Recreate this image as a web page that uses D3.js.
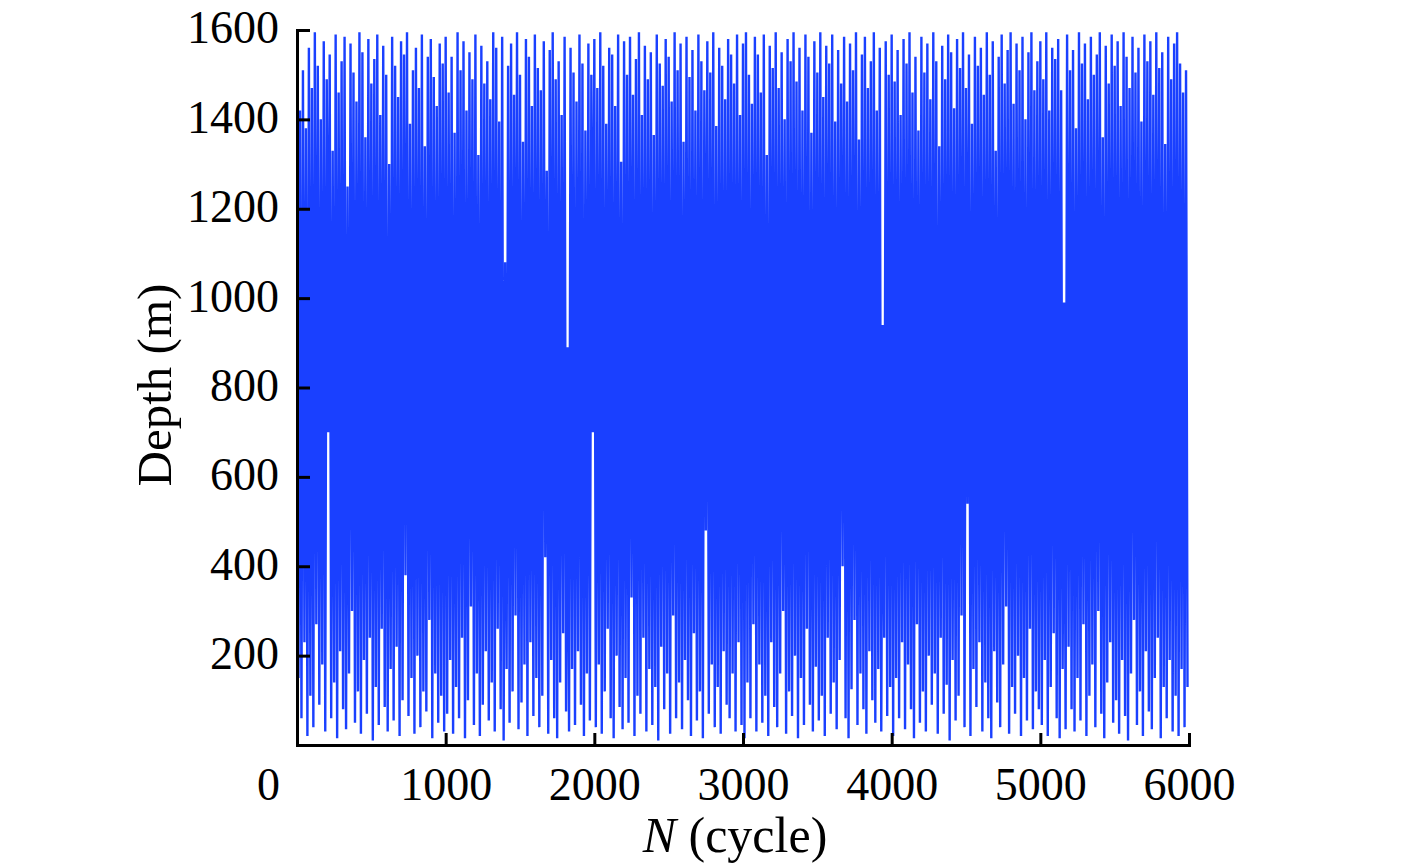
<!DOCTYPE html>
<html>
<head>
<meta charset="utf-8">
<script src="https://cdn.jsdelivr.net/npm/d3@7/dist/d3.min.js"></script>
<style>
  html, body { margin: 0; padding: 0; background: #fff; }
  svg text { font-family: "Liberation Serif", "Times New Roman", serif; fill: #000; }
</style>
</head>
<body>
<svg id="chart" width="1419" height="864"></svg>
<script>
// Depth (m) per 10 cycles, one array per 1000 cycles
const depth0000 = [
1590,150,1420,60,1510,230,1380,20,1560,110,
1470,40,1595,270,1520,90,1400,180,1575,30,
1490,700,1545,60,1330,140,1590,15,1460,210,
1530,80,1585,35,1250,160,1570,300,1505,50,
1440,120,1595,25,1550,190,1360,70,1580,240,
1480,10,1535,130,1590,45,1410,260,1565,85,
1500,30,1300,170,1585,55,1520,220,1450,20,
1575,100,1545,380,1595,65,1390,150,1510,25,
1560,200,1470,40,1590,120,1340,75,1540,280,
1580,15,1495,160,1430,50,1570,110,1525,30];
const depth1000 = [
1585,70,1460,190,1540,25,1370,130,1595,60,
1510,240,1575,15,1420,100,1550,310,1490,45,
1590,160,1320,20,1565,90,1480,210,1530,55,
1445,140,1595,30,1560,260,1395,80,1585,10,
1080,170,1520,50,1570,120,1455,290,1595,35,
1500,95,1350,180,1580,20,1540,230,1430,65,
1590,150,1515,40,1465,110,1575,420,1285,25,
1555,190,1595,60,1490,15,1530,140,1410,250,
1585,75,890,30,1560,170,1505,45,1440,210,
1590,90,1525,20,1375,160,1570,55,1500,700];
const depth2000 = [
1580,40,1470,180,1595,25,1520,120,1390,260,
1560,60,1545,15,1430,200,1590,85,1305,35,
1575,150,1500,50,1585,330,1455,20,1535,110,
1595,70,1410,240,1565,30,1490,170,1550,45,
1365,130,1590,10,1525,220,1475,80,1580,160,
1540,25,1440,290,1595,60,1510,140,1570,35,
1350,190,1585,100,1495,20,1555,250,1420,55,
1590,120,1530,15,1465,480,1575,70,1505,180,
1595,40,1385,130,1560,25,1520,210,1445,90,
1580,60,1545,160,1480,30,1590,230,1410,45];
const depth3000 = [
1570,15,1595,140,1500,60,1435,270,1585,30,
1545,180,1460,50,1590,110,1320,20,1565,230,
1515,85,1595,40,1470,160,1550,300,1400,25,
1580,120,1530,65,1595,200,1485,15,1560,150,
1420,45,1590,260,1540,90,1370,30,1575,175,
1505,55,1595,110,1450,20,1565,240,1525,70,
1590,140,1395,35,1555,190,1480,400,1585,60,
1440,15,1570,125,1510,280,1595,45,1355,160,
1545,80,1585,25,1470,210,1530,100,1595,50,
1420,170,1560,30,940,240,1575,65,1500,130];
const depth4000 = [
1590,20,1485,150,1555,60,1410,230,1580,35,
1525,180,1595,80,1460,15,1540,270,1375,50,
1585,120,1505,30,1570,200,1445,90,1595,160,
1530,25,1340,240,1565,70,1490,135,1590,10,
1550,190,1425,55,1580,110,1515,290,1595,40,
1470,540,1545,20,1390,170,1585,85,1520,230,
1560,30,1455,140,1595,60,1500,15,1575,210,
1330,95,1540,40,1590,180,1480,310,1555,25,
1595,130,1435,70,1570,200,1510,20,1585,150,
1400,55,1550,260,1595,35,1465,120,1530,80];
const depth5000 = [
1575,45,1490,190,1595,20,1420,130,1560,250,
1535,60,1580,15,1465,170,990,35,1590,220,
1510,80,1555,30,1380,150,1595,55,1525,270,
1570,20,1445,110,1585,180,1500,40,1545,300,
1595,70,1360,15,1565,140,1480,230,1590,50,
1520,100,1575,25,1430,190,1595,65,1540,10,
1470,160,1585,280,1505,45,1560,120,1395,20,
1590,210,1530,75,1575,35,1455,150,1595,240,
1515,15,1550,130,1345,60,1585,190,1490,30,
1570,110,1595,20,1525,170,1460,40,1510,130];

const segments = [
  { start: 0, values: depth0000 },
  { start: 1000, values: depth1000 },
  { start: 2000, values: depth2000 },
  { start: 3000, values: depth3000 },
  { start: 4000, values: depth4000 },
  { start: 5000, values: depth5000 }
];
const xTicks = [0, 1000, 2000, 3000, 4000, 5000, 6000];
const yTicks = [200, 400, 600, 800, 1000, 1200, 1400, 1600];

const data = [];
segments.forEach(s => {
  const step = 1000 / s.values.length;
  s.values.forEach((v, j) => data.push({ n: s.start + j * step, d: v }));
});

const svg = d3.select("#chart");
const x = d3.scaleLinear().domain([0, 6000]).range([297, 1189]);
const y = d3.scaleLinear().domain([0, 1600]).range([745, 30]);

svg.append("defs").append("clipPath").attr("id", "clip")
  .append("rect").attr("x", 297).attr("y", 28).attr("width", 892).attr("height", 718);

const line = d3.line().x(p => x(p.n)).y(p => y(p.d));
svg.append("path")
  .datum(data)
  .attr("clip-path", "url(#clip)")
  .attr("fill", "none")
  .attr("stroke", "#1a40ff")
  .attr("stroke-width", 2.4)
  .attr("stroke-linejoin", "bevel")
  .attr("d", line);

// Axes
const yAxis = d3.axisLeft(y).tickValues(yTicks).tickSize(-13).tickPadding(18).tickFormat(d3.format("d"));
const gy = svg.append("g").attr("transform", "translate(297,0)").call(yAxis);
const xAxis = d3.axisBottom(x).tickValues(xTicks).tickSize(-12).tickPadding(24).tickFormat(d3.format("d"));
const gx = svg.append("g").attr("transform", "translate(0,745)").call(xAxis);

[gy, gx].forEach(g => {
  g.select(".domain").attr("stroke", "#000").attr("stroke-width", 3);
  g.selectAll(".tick line").attr("stroke", "#000").attr("stroke-width", 3);
  g.selectAll(".tick text").attr("font-size", 46).attr("fill", "#000")
    .attr("font-family", "'Liberation Serif', 'Times New Roman', serif");
});
gy.selectAll(".tick text").attr("dy", "0.28em");
gx.selectAll(".tick text").attr("dy", "0.68em");
// first x label is set off to the left of the axis corner
gx.selectAll(".tick").filter(d => d === 0).select("text").attr("x", -29);
gx.selectAll(".tick").filter(d => d === 0).select("line").remove();

// Axis titles
svg.append("text")
  .attr("transform", "translate(171,385) rotate(-90)")
  .attr("text-anchor", "middle")
  .attr("font-size", 49)
  .text("Depth (m)");

const xt = svg.append("text")
  .attr("x", 735).attr("y", 852)
  .attr("text-anchor", "middle")
  .attr("font-size", 50);
xt.append("tspan").attr("font-style", "italic").text("N");
xt.append("tspan").text(" (cycle)");
</script>
</body>
</html>
